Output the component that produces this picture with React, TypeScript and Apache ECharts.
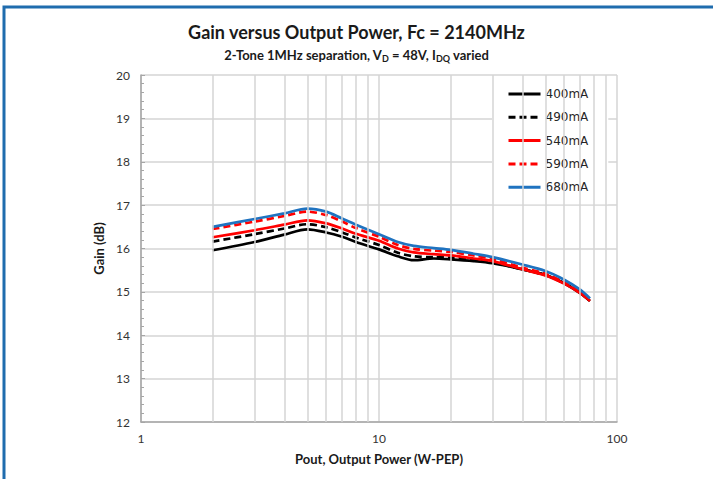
import React, { useEffect, useRef } from "react";
import * as echarts from "echarts";

const xValues = [2, 3, 4, 5, 6, 7, 8, 10, 12, 14, 17, 20, 25, 30, 40, 50, 60, 70, 77];
const gain400 = [15.96, 16.15, 16.32, 16.44, 16.37, 16.27, 16.15, 15.98, 15.82, 15.73, 15.77, 15.75, 15.71, 15.66, 15.52, 15.39, 15.2, 14.97, 14.79];
const gain490 = [16.16, 16.33, 16.46, 16.56, 16.49, 16.37, 16.25, 16.08, 15.9, 15.82, 15.8, 15.79, 15.74, 15.68, 15.52, 15.39, 15.2, 14.98, 14.79];
const gain540 = [16.26, 16.42, 16.55, 16.65, 16.58, 16.46, 16.34, 16.18, 16.0, 15.91, 15.87, 15.84, 15.77, 15.71, 15.52, 15.38, 15.19, 14.97, 14.79];
const gain590 = [16.45, 16.62, 16.75, 16.85, 16.77, 16.62, 16.47, 16.27, 16.08, 15.99, 15.95, 15.92, 15.84, 15.76, 15.56, 15.42, 15.22, 15.0, 14.8];
const gain680 = [16.5, 16.68, 16.81, 16.92, 16.85, 16.69, 16.55, 16.33, 16.15, 16.06, 16.01, 15.97, 15.88, 15.8, 15.63, 15.48, 15.28, 15.05, 14.85];
const seriesNames = ["400mA", "490mA", "540mA", "590mA", "680mA"];
const minorXGrid = [2, 3, 4, 5, 6, 7, 8, 9, 20, 30, 40, 50, 60, 70, 80, 90];

export default function App() {
  const ref = useRef<HTMLDivElement>(null);
  useEffect(() => {
    if (!ref.current) return;
    const chart = echarts.init(ref.current, undefined, { renderer: "svg" });
    const mk = (vals: number[]) => xValues.map((x, i) => [x, vals[i]]);
    const lineSeries = (name: string, vals: number[], color: string, type: any) => ({
      name,
      type: "line",
      data: mk(vals),
      smooth: 0.3,
      symbol: "none",
      z: 3,
      lineStyle: { color, width: 2.7, type },
      itemStyle: { color },
    });
    chart.setOption({
      animation: false,
      backgroundColor: "#ffffff",
      title: [
        {
          text: "Gain versus Output Power, Fc = 2140MHz",
          left: "center",
          top: 18,
          textStyle: { fontFamily: "Lato", fontWeight: "bold", fontSize: 18, color: "#1a1a1a" },
        },
        {
          text: "2-Tone 1MHz separation, V{sub|D} = 48V, I{sub|DQ} varied",
          left: "center",
          top: 42,
          textStyle: {
            fontFamily: "Lato",
            fontWeight: "bold",
            fontSize: 13,
            color: "#1a1a1a",
            rich: {
              sub: { fontFamily: "Lato", fontWeight: "bold", fontSize: 9, color: "#1a1a1a", padding: [7, 0, 0, 0] },
            },
          },
        },
      ],
      graphic: [
        {
          type: "rect",
          shape: { x: 4, y: 7, width: 800, height: 600 },
          style: { fill: "none", stroke: "#1f6cae", lineWidth: 3 },
          silent: true,
        },
      ],
      legend: {
        data: seriesNames,
        orient: "vertical",
        left: 492,
        top: 77,
        padding: [10, 20, 10, 15],
        itemGap: 9.3,
        itemWidth: 32,
        itemHeight: 14,
        itemStyle: { opacity: 0, borderWidth: 0 },
        lineStyle: { width: 3 },
        backgroundColor: "#ffffff",
        textStyle: { fontFamily: "DejaVu Sans", fontSize: 12, color: "#262626", lineHeight: 14 },
      },
      grid: { left: 141, right: 96, top: 75, bottom: 57 },
      xAxis: {
        type: "log",
        logBase: 10,
        min: 1,
        max: 100,
        name: "Pout, Output Power (W-PEP)",
        nameLocation: "middle",
        nameGap: 30,
        nameTextStyle: { fontFamily: "Lato", fontWeight: "bold", fontSize: 13, color: "#1a1a1a" },
        axisLine: { lineStyle: { color: "#a6a6a6", width: 1.5 } },
        axisTick: { show: false },
        axisLabel: { fontFamily: "Lato", fontSize: 12, color: "#333333", margin: 10 },
        splitLine: { show: true, lineStyle: { color: "#d4d4d4", width: 1.5 } },
      },
      yAxis: {
        type: "value",
        min: 12,
        max: 20,
        interval: 1,
        name: "Gain (dB)",
        nameLocation: "middle",
        nameGap: 28,
        nameTextStyle: { fontFamily: "Lato", fontWeight: "bold", fontSize: 13, color: "#1a1a1a" },
        axisLine: { show: true, lineStyle: { color: "#a6a6a6", width: 1.5 } },
        axisTick: { show: true, inside: true, length: 4, lineStyle: { color: "#a6a6a6" } },
        minorTick: { show: true, splitNumber: 5, length: 3, lineStyle: { color: "#a6a6a6" } },
        axisLabel: { fontFamily: "Lato", fontSize: 12, color: "#333333", margin: 11 },
        splitLine: { show: true, lineStyle: { color: "#d4d4d4", width: 1.5 } },
      },
      series: [
        {
          name: "_grid",
          type: "line",
          data: [],
          z: 1,
          silent: true,
          markLine: {
            silent: true,
            symbol: ["none", "none"],
            label: { show: false },
            lineStyle: { type: "solid", color: "#d4d4d4", width: 1.5 },
            emphasis: { disabled: true },
            data: minorXGrid.map((v) => ({ xAxis: v })),
          },
        },
        lineSeries("400mA", gain400, "#000000", "solid"),
        lineSeries("490mA", gain490, "#000000", [7, 4]),
        lineSeries("540mA", gain540, "#ff0000", "solid"),
        lineSeries("590mA", gain590, "#ff0000", [7, 4]),
        lineSeries("680mA", gain680, "#1f73c0", "solid"),
      ],
    });
    return () => chart.dispose();
  }, []);
  return <div ref={ref} style={{ position: "fixed", left: 0, top: 0, width: 713, height: 479 }} />;
}
